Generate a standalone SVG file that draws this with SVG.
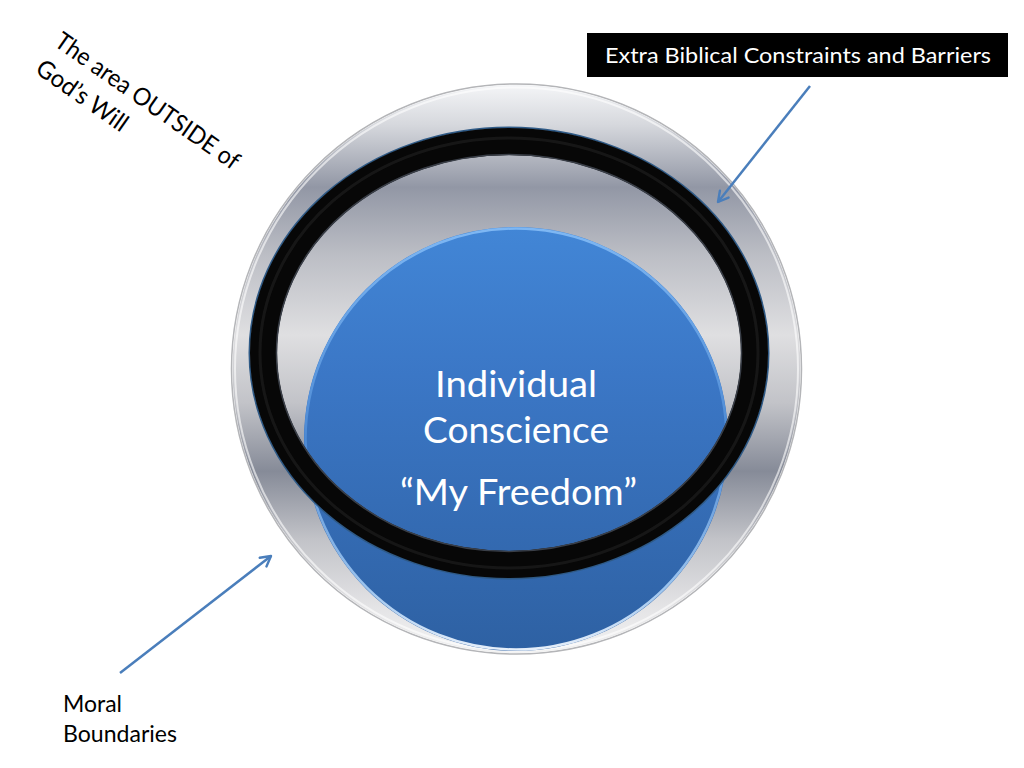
<svg xmlns="http://www.w3.org/2000/svg" width="1024" height="768" viewBox="0 0 1024 768">
  <style>
    .lbl { font-family: Lato, "Liberation Sans", sans-serif; fill: #000; }
    .wht { font-family: Lato, "Liberation Sans", sans-serif; fill: #fff; }
    .conn { stroke: #4a7ebb; stroke-width: 2.5; fill: none; }
  </style>
  <defs>
    <linearGradient id="silver" x1="0" y1="85" x2="0" y2="653" gradientUnits="userSpaceOnUse">
      <stop offset="0" stop-color="#f4f5f7"/>
      <stop offset="0.07" stop-color="#d6d8dd"/>
      <stop offset="0.18" stop-color="#9297a5"/>
      <stop offset="0.30" stop-color="#bcbec5"/>
      <stop offset="0.44" stop-color="#dfdfe1"/>
      <stop offset="0.56" stop-color="#c2c3c8"/>
      <stop offset="0.68" stop-color="#868b98"/>
      <stop offset="0.80" stop-color="#c2c3c8"/>
      <stop offset="0.92" stop-color="#e4e4e6"/>
      <stop offset="1" stop-color="#f2f2f2"/>
    </linearGradient>
    <linearGradient id="blue" x1="0" y1="227" x2="0" y2="651" gradientUnits="userSpaceOnUse">
      <stop offset="0" stop-color="#4286d6"/>
      <stop offset="0.35" stop-color="#3b77c6"/>
      <stop offset="1" stop-color="#2e61a3"/>
    </linearGradient>
    <linearGradient id="blueRim" x1="0" y1="227" x2="0" y2="651" gradientUnits="userSpaceOnUse">
      <stop offset="0" stop-color="#7fb8f4"/>
      <stop offset="0.5" stop-color="#4d8ad4"/>
      <stop offset="0.85" stop-color="#9cc4ee"/>
      <stop offset="1" stop-color="#e8f0fa"/>
    </linearGradient>
    <marker id="arrow" viewBox="0 0 14 14" refX="12" refY="7" markerWidth="14" markerHeight="14" markerUnits="userSpaceOnUse" orient="auto">
      <path d="M2,1.5 L12,7 L2,12.5" fill="none" stroke="#4a7ebb" stroke-width="2.4" stroke-linecap="round" stroke-linejoin="round"/>
    </marker>
  </defs>

  <rect width="1024" height="768" fill="#ffffff"/>

  <g id="node-outer-boundary">
    <circle cx="516.5" cy="369" r="285" fill="none" stroke="#b4b5b8" stroke-width="1.5"/>
    <circle cx="516.5" cy="369" r="284" fill="url(#silver)"/>
    <circle cx="516.5" cy="369" r="281.5" fill="none" stroke="#ffffff" stroke-opacity="0.6" stroke-width="2"/>
  </g>

  <g id="node-individual-conscience">
    <circle cx="516" cy="439" r="212" fill="url(#blue)"/>
    <circle cx="516" cy="439" r="210.5" fill="none" stroke="url(#blueRim)" stroke-width="2.5"/>
    <text class="wht" x="516" y="397" font-size="36" text-anchor="middle" textLength="162" lengthAdjust="spacingAndGlyphs">Individual</text>
    <text class="wht" x="516" y="443" font-size="36" text-anchor="middle" textLength="186" lengthAdjust="spacingAndGlyphs">Conscience</text>
    <text class="wht" x="518.5" y="505" font-size="36" text-anchor="middle" textLength="237" lengthAdjust="spacingAndGlyphs">“My Freedom”</text>
  </g>

  <g id="node-barrier-ring">
    <ellipse cx="509" cy="353" rx="259.5" ry="225.5" fill="none" stroke="#2f5a86" stroke-width="2"/>
    <ellipse cx="509" cy="353" rx="245.5" ry="211.5" fill="none" stroke="#070707" stroke-width="27"/>
    <ellipse cx="509" cy="353" rx="249" ry="215" fill="none" stroke="#222" stroke-width="3" stroke-opacity="0.6"/>
    <ellipse cx="509" cy="353" rx="232.5" ry="198.5" fill="none" stroke="#3a3f48" stroke-width="1.5"/>
  </g>

  <g id="label-extra-biblical">
    <rect x="587" y="33" width="421" height="44" fill="#000000"/>
    <text class="wht" x="798" y="63" font-size="22" text-anchor="middle" textLength="386" lengthAdjust="spacingAndGlyphs">Extra Biblical Constraints and Barriers</text>
  </g>

  <g id="label-moral-boundaries">
    <text class="lbl" x="63" y="712" font-size="23.5" textLength="59" lengthAdjust="spacingAndGlyphs">Moral</text>
    <text class="lbl" x="63" y="742" font-size="23.5" textLength="114" lengthAdjust="spacingAndGlyphs">Boundaries</text>
  </g>

  <g id="label-outside" transform="translate(53,45) rotate(35)">
    <text class="lbl" x="0" y="0" font-size="24.5" textLength="219" lengthAdjust="spacingAndGlyphs">The area OUTSIDE of</text>
    <text class="lbl" x="0" y="33" font-size="24.5" textLength="106" lengthAdjust="spacingAndGlyphs">God’s Will</text>
  </g>

  <g id="connectors">
    <line class="conn" x1="810" y1="86" x2="718" y2="202" marker-end="url(#arrow)"/>
    <line class="conn" x1="120" y1="673" x2="271" y2="556" marker-end="url(#arrow)"/>
  </g>
</svg>
